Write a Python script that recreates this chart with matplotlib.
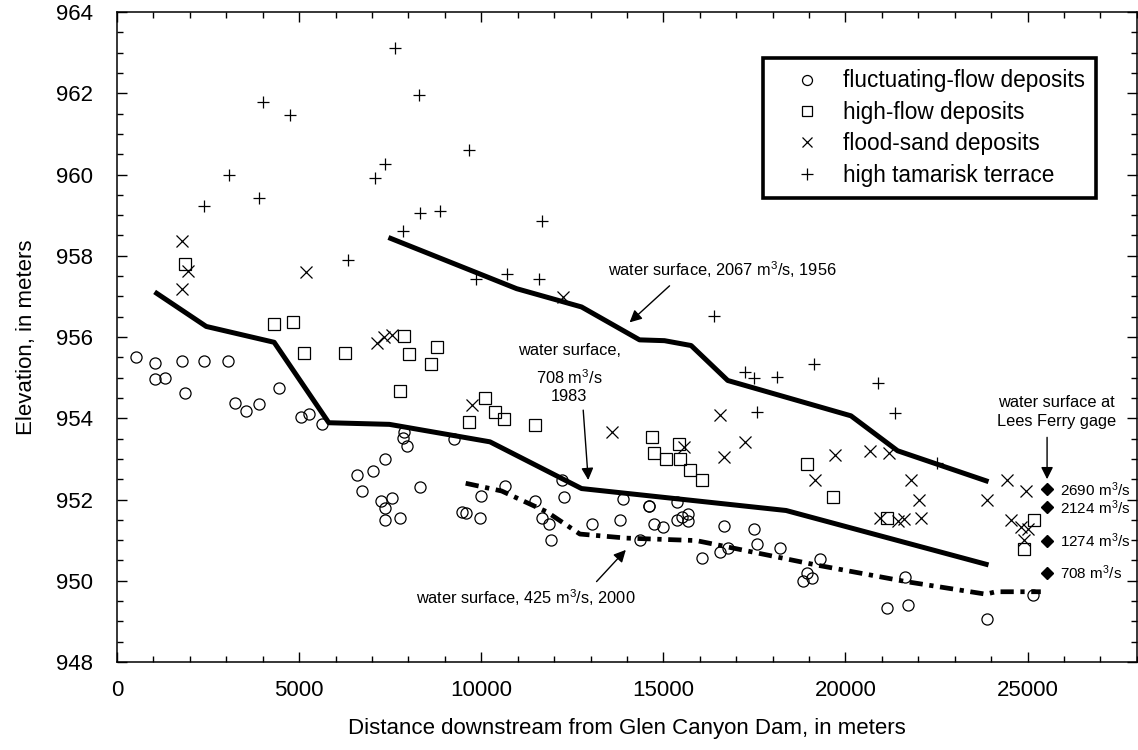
import matplotlib
matplotlib.use("Agg")
import matplotlib.pyplot as plt
from matplotlib.ticker import MultipleLocator

plt.rcParams['font.family'] = ['Liberation Sans', 'DejaVu Sans']
plt.rcParams['mathtext.fontset'] = 'custom'
plt.rcParams['mathtext.rm'] = 'Liberation Sans'
plt.rcParams['mathtext.it'] = 'Liberation Sans:italic'

# ---- survey data: distance downstream (m), elevation (m) ----
fluct_x = [512, 1042, 1033, 1317, 1783, 1865, 2386, 3054, 4443, 3246, 3547, 3886,
           5056, 5275, 5632, 7890, 7845, 7964, 9253, 7351, 6583, 7031, 6729, 8329,
           7250, 7543, 7351, 7351, 7781, 9481, 9591, 9975, 9984, 10661, 11483, 11666,
           11868, 11922, 12224, 12279, 13038, 13806, 13897, 14602, 14602, 15370, 15370,
           15507, 15690, 15690, 14748, 14995, 14364, 16668, 17482, 16064, 16558, 16768,
           17582, 18204, 19310, 18944, 18825, 19072, 21633, 21139, 21724, 23891, 25153]
fluct_y = [955.52, 955.35, 954.97, 954.98, 955.40, 954.61, 955.42, 955.42, 954.75, 954.38,
           954.17, 954.34, 954.04, 954.10, 953.87, 953.65, 953.51, 953.31, 953.48, 953.00,
           952.61, 952.69, 952.22, 952.30, 951.96, 952.03, 951.78, 951.50, 951.55, 951.69,
           951.68, 951.55, 952.09, 952.34, 951.96, 951.55, 951.40, 951.00, 952.49, 952.07,
           951.39, 951.50, 952.02, 951.85, 951.83, 951.93, 951.50, 951.58, 951.64, 951.46,
           951.40, 951.32, 951.00, 951.35, 951.28, 950.55, 950.70, 950.80, 950.91, 950.80,
           950.53, 950.18, 950.00, 950.06, 950.09, 949.32, 949.40, 949.07, 949.64]

highflow_x = [1874, 4297, 4827, 7881, 8777, 5138, 6263, 8009, 8613, 7781, 10094, 9664,
              10377, 10624, 11483, 14675, 15443, 14739, 15077, 15452, 15744, 16074,
              18944, 19648, 21130, 25171, 24906]
highflow_y = [957.79, 956.31, 956.38, 956.03, 955.76, 955.60, 955.60, 955.58, 955.34,
              954.66, 954.49, 953.92, 954.15, 953.98, 953.83, 953.55, 953.36, 953.15,
              952.99, 952.99, 952.72, 952.47, 952.87, 952.05, 951.55, 951.50, 950.77]

flood_x = [1792, 1947, 1792, 5202, 12233, 7130, 7330, 7540, 9756, 13596, 16567, 17235,
           16677, 15580, 19722, 20682, 21185, 19155, 21788, 22007, 23891, 24439, 24969,
           20956, 21440, 21596, 22062, 24541, 24815, 24998, 24906]
flood_y = [958.37, 957.62, 957.18, 957.60, 956.99, 955.85, 956.00, 956.05, 954.32, 953.66,
           954.07, 953.41, 953.04, 953.29, 953.10, 953.20, 953.15, 952.49, 952.49, 952.00,
           952.00, 952.49, 952.22, 951.55, 951.47, 951.52, 951.55, 951.50, 951.33, 951.27,
           951.00]

terrace_x = [7625, 4005, 8284, 4763, 9673, 7351, 3072, 7095, 3895, 2395, 8329, 8869,
             11666, 7854, 6354, 9856, 10706, 11575, 16394, 17235, 17491, 18113, 19136,
             20883, 17582, 21358, 22501]
terrace_y = [963.12, 961.78, 961.95, 961.46, 960.61, 960.26, 959.98, 959.92, 959.41,
             959.22, 959.05, 959.09, 958.85, 958.62, 957.89, 957.44, 957.55, 957.42,
             956.52, 955.13, 954.98, 955.02, 955.33, 954.87, 954.15, 954.12, 952.89]

# water-surface profiles
ws1956_x = [7452, 10972, 12754, 14346, 15031, 15763, 16768, 20151, 21431, 23927]
ws1956_y = [958.45, 957.19, 956.74, 955.93, 955.91, 955.79, 954.93, 954.06, 953.20, 952.44]

ws1983_x = [1033, 2450, 4315, 5815, 7479, 10240, 12754, 18369, 23927]
ws1983_y = [957.11, 956.26, 955.87, 953.89, 953.85, 953.42, 952.27, 951.73, 950.39]

ws2000_x = [9573, 10560, 11794, 12709, 13989, 15900, 19191, 21660, 23854, 24130, 25363]
ws2000_y = [952.40, 952.21, 951.70, 951.15, 951.05, 950.99, 950.39, 949.98, 949.67,
            949.73, 949.73]

# Lees Ferry gage stages
gage_x = 25528
gage_q = [2690, 2124, 1274, 708]
gage_y = [952.25, 951.81, 950.98, 950.20]

legend_labels = ['fluctuating-flow deposits', 'high-flow deposits',
                 'flood-sand deposits', 'high tamarisk terrace']

fig = plt.figure(figsize=(11.38, 7.5), dpi=100)
ax = fig.add_axes([0.1028, 0.1173, 0.8962, 0.8667])

mk = dict(linestyle='none', color='black', markerfacecolor='none',
          markeredgecolor='black', markeredgewidth=0.9)
ax.plot(fluct_x, fluct_y, marker='o', markersize=8, label=legend_labels[0], **mk)
ax.plot(highflow_x, highflow_y, marker='s', markersize=8, label=legend_labels[1], **mk)
ax.plot(flood_x, flood_y, marker='x', markersize=8.5, label=legend_labels[2], **mk)
ax.plot(terrace_x, terrace_y, marker='+', markersize=9, label=legend_labels[3], **mk)

ax.plot(ws1956_x, ws1956_y, color='black', lw=3.6, solid_capstyle='butt')
ax.plot(ws1983_x, ws1983_y, color='black', lw=3.6, solid_capstyle='butt')
ax.plot(ws2000_x, ws2000_y, color='black', lw=3.4,
        linestyle=(0, (2.8, 1.4, 0.9, 1.4)), dash_capstyle='butt')

ax.plot([gage_x] * len(gage_y), gage_y, linestyle='none', marker='D',
        markersize=6.5, color='black')
for q, y in zip(gage_q, gage_y):
    ax.text(gage_x + 360, y, f'{q} m$^{{\\mathrm{{3}}}}$/s', fontsize=11,
            ha='left', va='center')

fs = 11.8
arrow = dict(arrowstyle='-|>', color='black', lw=1, mutation_scale=18,
             shrinkA=0, shrinkB=0)

ax.text(13487, 957.65, 'water surface, 2067 m$^{\\mathrm{3}}$/s, 1956',
        fontsize=fs, ha='left', va='center')
ax.annotate('', xy=(14073, 956.36), xytext=(15170, 957.26), arrowprops=arrow)

ax.text(12416, 955.68, 'water surface,', fontsize=fs, ha='center', va='center')
ax.text(12416, 955.00, '708 m$^{\\mathrm{3}}$/s', fontsize=fs, ha='center', va='center')
ax.text(12416, 954.53, '1983', fontsize=fs, ha='center', va='center')
ax.annotate('', xy=(12938, 952.48), xytext=(12800, 954.2), arrowprops=arrow)

ax.text(8202, 949.58, 'water surface, 425 m$^{\\mathrm{3}}$/s, 2000',
        fontsize=fs, ha='left', va='center')
ax.annotate('', xy=(13970, 950.76), xytext=(13166, 949.98), arrowprops=arrow)

ax.text(25795, 954.38, 'water surface at', fontsize=fs, ha='center', va='center')
ax.text(25795, 953.91, 'Lees Ferry gage', fontsize=fs, ha='center', va='center')
ax.annotate('', xy=(25535, 952.5), xytext=(25535, 953.53), arrowprops=arrow)

ax.set_xlim(0, 28000)
ax.set_ylim(948, 964)
ax.xaxis.set_major_locator(MultipleLocator(5000))
ax.xaxis.set_minor_locator(MultipleLocator(1000))
ax.yaxis.set_major_locator(MultipleLocator(2))
ax.yaxis.set_minor_locator(MultipleLocator(0.5))
ax.tick_params(which='both', direction='in', top=True, right=True, width=1)
ax.tick_params(which='major', length=7.5)
ax.tick_params(which='minor', length=4)
ax.tick_params(axis='x', which='major', labelsize=16, pad=13)
ax.tick_params(axis='y', which='major', labelsize=16, pad=17)
for sp in ax.spines.values():
    sp.set_linewidth(1.1)

ax.set_xlabel('Distance downstream from Glen Canyon Dam, in meters', fontsize=16,
              labelpad=12)
ax.set_ylabel('Elevation, in meters', fontsize=16, labelpad=14)

leg = ax.legend(loc='upper left', bbox_to_anchor=(0.633, 0.929), borderaxespad=0,
                fontsize=16.3, frameon=True, fancybox=False, framealpha=1,
                edgecolor='black', handlelength=2.9, handletextpad=0.15,
                borderpad=0.5, labelspacing=0.37, markerscale=0.9)
leg.get_frame().set_linewidth(2.6)

fig.savefig('out.png', dpi=100)
